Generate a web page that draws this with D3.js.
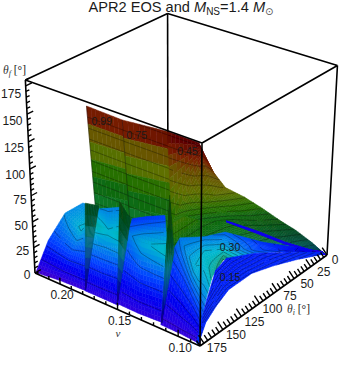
<!DOCTYPE html>
<html>
<head>
<meta charset="utf-8">
<script src="https://cdn.jsdelivr.net/npm/d3@7"></script>
<style>
  html, body { margin: 0; padding: 0; background: #fff; }
  svg { display: block; }
  text { font-family: "Liberation Sans", sans-serif; fill: #1a1a1a; }
  .sym { font-family: "Liberation Serif", serif; font-style: italic; fill: #333; }
</style>
</head>
<body>
<div id="chart"></div>
<script>
// axis ticks and labels
const nuTicks = d3.range(0.09, 0.2201, 0.01);
const nuLabels = [0.20, 0.15, 0.10];
const angleTicks = d3.range(0, 181, 5);
const angleLabels = [0, 25, 50, 75, 100, 125, 150, 175];
const curveLabels = ["0.99", "0.75", "0.45", "0.30", "0.15"];
const curveLabelNu = [0.1666, 0.1386, 0.0994, 0.0966, 0.0966];
const curveLabelThetaI = [170, 170, 170, 118.4, 117.5];
const curveLabelThetaF = [161, 160.5, 162, 56, 26.5];

// far wall, left of the folds
const wall1Nu = [[0.1789, 0.15], [0.1789, 0.15]];
const wall1ThetaI = [[170, 170], [160, 160]];
const wall1ThetaF = [[170, 169], [40, 50]];
const wall2Nu = [[0.15, 0.1147], [0.15, 0.1147]];
const wall2ThetaI = [[170, 170], [160, 160]];
const wall2ThetaF = [[169, 173], [40, 50]];

// upper sheet running out to the corner
const upperThetaI = [170, 165, 150, 125, 100, 75, 50, 25, 3];
const upperNu = [
  [0.1147, 0.091, 0.0826], [0.1147, 0.091, 0.0826], [0.1147, 0.091, 0.0826],
  [0.1147, 0.091, 0.0826], [0.1106, 0.091, 0.0826], [0.0994, 0.0896, 0.0826],
  [0.091, 0.0868, 0.0826], [0.0868, 0.0847, 0.0826], [0.0826, 0.0826, 0.0826]];
const upperThetaF = [
  [173, 173, 157], [90, 158, 149], [90, 119, 130], [75, 99, 111], [66, 79, 90],
  [50, 61, 68], [32, 41, 47], [16, 20, 24], [2, 2, 2]];

// second green band
const bandThetaI = [165, 150, 125, 100, 75, 50, 25, 3];
const bandNu = [0.1147, 0.1147, 0.1147, 0.1106, 0.0994, 0.091, 0.0868, 0.0826];
const bandTop = [90, 90, 75, 66, 50, 32, 16, 2];
const bandBottom = [61, 60, 57, 51.5, 38.5, 24.5, 11, 2];

// violet sliver
const sliverThetaI = [100, 75, 50, 25, 3];
const sliverNu = [0.1106, 0.0994, 0.091, 0.0868, 0.0826];
const sliverTop = [66, 50, 32, 16, 2];
const sliverBottom = [65, 47.5, 30, 15.3, 2];

// blue mounds, left to right
const mound1Nu = [[0.2226, 0.2002, 0.1789], [0.2226, 0.1978, 0.1859], [0.2226, 0.189, 0.1943], [0.2226, 0.2064, 0.1806]];
const mound1ThetaI = [[179, 178, 178], [162, 169, 167], [140, 166, 152], [117, 123, 125]];
const mound1ThetaF = [[0, 2, 3], [24, 25, 25], [41, 52, 48], [41, 45, 38]];

const mound2Nu = [[0.1782, 0.1649, 0.1495], [0.1834, 0.1718, 0.1568], [0.1814, 0.1726, 0.16], [0.2096, 0.2073, 0.2015]];
const mound2ThetaI = [[179.6, 179.5, 179.5], [166, 166.5, 164.5], [159.5, 157, 158.6], [115, 106.5, 98.5]];
const mound2ThetaF = [[4, 4, 4], [24, 24, 24], [58, 52, 56], [40, 38, 38]];

const mound3Nu = [[0.151, 0.1338, 0.1135], [0.1637, 0.1448, 0.1242], [0.1767, 0.1515, 0.125], [0.1995, 0.1935, 0.183]];
const mound3ThetaI = [[178, 178.5, 177], [153.5, 159, 157], [126, 146, 154], [86, 75, 66.4]];
const mound3ThetaF = [[4, 4, 4], [20, 22, 24], [36, 48, 56], [22, 22, 24]];

const mound4Nu = [
  [0.1147, 0.098, 0.0826], [0.1456, 0.1106, 0.0826], [0.1456, 0.1039, 0.0826], [0.133, 0.1081, 0.0826],
  [0.1302, 0.1063, 0.0826], [0.1106, 0.1044, 0.0966], [0.0938, 0.0952, 0.0896], [0.0826, 0.0826, 0.0826]];
const mound4ThetaI = [
  [179, 179.5, 180], [116, 150, 179], [105, 153, 174], [92, 133, 165.6],
  [68, 110.5, 151.5], [48, 71, 83], [29, 42, 45], [8, 8, 8]];
const mound4ThetaF = [
  [3, 3, 2], [27, 24, 18], [36, 50, 37], [37, 52, 57],
  [32, 48, 66], [22, 28, 34], [16, 18, 21.5], [7, 7, 7]];

// low wing in front
const wingNu = [
  [0.0854, 0.084], [0.0857, 0.0896], [0.0918, 0.0946], [0.1028, 0.099],
  [0.1065, 0.0979], [0.1019, 0.0937], [0.0918, 0.089], [0.0826, 0.0826]];
const wingThetaI = [[180, 180], [173.5, 161], [156.6, 139], [127, 115], [106, 85], [74, 61], [45, 36], [8, 7]];
const wingThetaF = [[2, 1], [18, 9], [27, 11], [35, 12.6], [35, 14.4], [27, 12.6], [19.5, 9], [6, 4]];

// dark folds
const fin1Nu = [[0.1789, 0.1789], [0.1789, 0.1764]];
const fin1ThetaI = [[178, 178], [175, 162]];
const fin1ThetaF = [[4, 4], [85, 78]];
const fin2Nu = [[0.1515, 0.1515], [0.15, 0.1485]];
const fin2ThetaI = [[178, 178], [175, 164]];
const fin2ThetaF = [[4, 4], [99, 79]];
const fin3Nu = [[0.1147, 0.1147], [0.1147, 0.1147]];
const fin3ThetaI = [[178, 178], [167.4, 162]];
const fin3ThetaF = [[4, 4], [117, 63]];

// colour ramp against theta_f
const rampStops = [0, 5, 14, 26, 40, 52, 60, 68, 84, 100, 117, 134, 150, 160, 172];
const rampColors = ["#4a00c8", "#2a00e0", "#0000f0", "#0044ff", "#0088e8", "#00b8d0", "#10a890", "#0c8050",
  "#0c7420", "#106a10", "#2a7000", "#607000", "#6a5000", "#7a2000", "#5a0000"];

const width = 339, height = 365;

const svg = d3.select("#chart").append("svg")
  .attr("width", width)
  .attr("height", height);

svg.append("filter").attr("id", "soft")
  .append("feGaussianBlur").attr("stdDeviation", 0.35);

// box corners in the picture and their perspective weights
const front = [200, 346], left = [35, 273], right = [327, 255], top_ = [202, 143];
const wa = 1.075, wb = 1.10, wc = 0.93;

const xNu = d3.scaleLinear().domain([0.0826, 0.2226]).range([0, 1]);
const yAngle = d3.scaleLinear().domain([180, 0]).range([0, 1]);
const zAngle = d3.scaleLinear().domain([0, 180]).range([0, 1]);
const ramp = d3.scaleLinear().domain(rampStops).range(rampColors).clamp(true);

function place(a, b, c) {
  const d = 1 + a * (wa - 1) + b * (wb - 1) + c * (wc - 1);
  return [0, 1].map(i => (front[i]
    + a * (wa * left[i] - front[i])
    + b * (wb * right[i] - front[i])
    + c * (wc * top_[i] - front[i])) / d);
}
const project = (nu, ti, tf) => place(xNu(nu), yAngle(ti), zAngle(tf));

const line = d3.line();
const mix = (p, q, t) => p + (q - p) * t;

// back upright sits behind everything
svg.append("path")
  .attr("d", line([place(1, 1, 1), place(1, 1, 0)]))
  .attr("stroke", "#000").attr("stroke-width", 1.6);

const surface = svg.append("g").attr("filter", "url(#soft)");

// fill one sheet cell by cell, then lay the iso lines over it
function drawSheet(nu, ti, tf, opts = {}) {
  const steps = 8;
  const tone = opts.tone || (v => v);
  const shade = opts.shade || (() => 1);
  const levels = d3.range(opts.step || 10, 180, opts.step || 10);
  const g = surface.append("g");
  const cells = [], iso = [];

  for (let r = 0; r < nu.length - 1; r++) {
    for (let k = 0; k < nu[r].length - 1; k++) {
      const at = (u, v) => {
        const f = m => mix(mix(m[r][k], m[r][k + 1], u), mix(m[r + 1][k], m[r + 1][k + 1], u), v);
        return { nu: f(nu), ti: f(ti), tf: f(tf) };
      };
      for (let i = 0; i < steps; i++) {
        for (let j = 0; j < steps; j++) {
          const q = [at(i / steps, j / steps), at((i + 1) / steps, j / steps),
            at((i + 1) / steps, (j + 1) / steps), at(i / steps, (j + 1) / steps)];
          const pts = q.map(n => project(n.nu, n.ti, n.tf));
          const mean = d3.mean(q, n => n.tf);
          const c = d3.rgb(ramp(tone(mean, d3.mean(q, n => n.ti))));
          const s = shade(mean, d3.mean(q, n => n.ti));
          cells.push({ pts, fill: d3.rgb(c.r * s, c.g * s, c.b * s).formatHex() });

          levels.forEach(level => {
            const hits = [];
            q.forEach((n, e) => {
              const m = q[(e + 1) % 4];
              if ((n.tf - level) * (m.tf - level) < 0) {
                hits.push([mix(pts[e][0], pts[(e + 1) % 4][0], (level - n.tf) / (m.tf - n.tf)),
                  mix(pts[e][1], pts[(e + 1) % 4][1], (level - n.tf) / (m.tf - n.tf))]);
              }
            });
            if (hits.length >= 2) iso.push(hits.slice(0, 2));
          });
        }
      }
    }
  }

  g.selectAll("path.cell").data(cells).join("path")
    .attr("class", "cell")
    .attr("d", d => line(d.pts) + "Z")
    .attr("fill", d => d.fill)
    .attr("stroke", d => d.fill)
    .attr("stroke-width", 0.5);

  g.append("path")
    .attr("d", iso.map(s => line(s)).join(""))
    .attr("fill", "none")
    .attr("stroke", "#000")
    .attr("stroke-opacity", 0.5)
    .attr("stroke-width", 0.6);

  if (opts.fold) {
    g.append("path")
      .attr("d", line(nu.map((row, r) => project(row[0], ti[r][0], tf[r][0]))))
      .attr("fill", "none")
      .attr("stroke", "#000")
      .attr("stroke-opacity", 0.5)
      .attr("stroke-width", 0.7);
  }
}

const pair = (p, q) => p.map((v, i) => [v, q[i]]);

const lifted = v => v + 40 * (1 - Math.min(v, 172) / 172);
const towardCorner = (v, ti) => 0.3 + 0.7 * Math.min(1, ti / 110);

drawSheet(wall1Nu, wall1ThetaI, wall1ThetaF, { fold: true });
drawSheet(wall2Nu, wall2ThetaI, wall2ThetaF, { fold: true });
drawSheet(upperNu, upperThetaI.map(t => [t, t, t]), upperThetaF, { tone: lifted, shade: towardCorner });
drawSheet(pair(bandNu, bandNu), pair(bandThetaI, bandThetaI), pair(bandTop, bandBottom),
  { tone: v => v + 32, shade: (v, ti) => 0.5 + 0.5 * Math.min(1, ti / 90) });
drawSheet(pair(sliverNu, sliverNu), pair(sliverThetaI, sliverThetaI), pair(sliverTop, sliverBottom),
  { tone: () => 10, step: 200 });

drawSheet(mound1Nu, mound1ThetaI, mound1ThetaF);
drawSheet(mound2Nu, mound2ThetaI, mound2ThetaF);
drawSheet(mound3Nu, mound3ThetaI, mound3ThetaF);
drawSheet(mound4Nu, mound4ThetaI, mound4ThetaF, { step: 5 });
drawSheet(wingNu, wingThetaI, wingThetaF, { tone: v => 22 - v * 0.1, step: 3 });

const darker = () => 0.62;
drawSheet(fin1Nu, fin1ThetaI, fin1ThetaF, { shade: darker, step: 200 });
drawSheet(fin2Nu, fin2ThetaI, fin2ThetaF, { shade: darker, step: 200 });
drawSheet(fin3Nu, fin3ThetaI, fin3ThetaF, { shade: darker, step: 200 });

// spin labels on the sheets
curveLabels.forEach((label, i) => {
  const p = project(curveLabelNu[i], curveLabelThetaI[i], curveLabelThetaF[i]);
  svg.append("text")
    .attr("x", p[0]).attr("y", p[1])
    .attr("text-anchor", "middle").attr("dy", "0.35em")
    .style("font-size", "10.5px")
    .text(label);
});

// box edges
const boxEdges = [
  [[1, 0, 1], [0, 0, 1]], [[0, 0, 1], [0, 1, 1]], [[0, 1, 1], [1, 1, 1]], [[1, 1, 1], [1, 0, 1]],
  [[1, 0, 0], [1, 0, 1]], [[0, 0, 0], [0, 0, 1]], [[0, 1, 0], [0, 1, 1]],
  [[1, 0, 0], [0, 0, 0]], [[0, 0, 0], [0, 1, 0]]
];
svg.append("path")
  .attr("d", boxEdges.map(e => line(e.map(c => place(...c)))).join(""))
  .attr("fill", "none").attr("stroke", "#000").attr("stroke-width", 1.6);

// ticks
const tickPath = [];
nuTicks.forEach(v => {
  const major = Math.abs(v * 100 % 5) < 0.01 || Math.abs(v * 100 % 5 - 5) < 0.01;
  tickPath.push(line([place(xNu(v), 0, 0), place(xNu(v), 0, major ? 0.035 : 0.017)]));
});
angleTicks.forEach(v => {
  const major = v % 25 === 0;
  tickPath.push(line([place(0, yAngle(v), 0), place(major ? 0.03 : 0.02, yAngle(v), major ? 0.03 : 0.02)]));
  tickPath.push(line([place(1, 0, zAngle(v)), place(1, major ? 0.04 : 0.022, zAngle(v))]));
});
svg.append("path")
  .attr("d", tickPath.join(""))
  .attr("fill", "none").attr("stroke", "#000").attr("stroke-width", 1.4);

// tick labels
nuLabels.forEach(v => {
  const p = place(xNu(v), 0, 0);
  svg.append("text").attr("x", p[0] + 2).attr("y", p[1] + 11)
    .attr("text-anchor", "middle").attr("dy", "0.35em")
    .style("font-size", "12px").text(v.toFixed(2));
});
angleLabels.forEach((v, i) => {
  const c = zAngle(v);
  const p = place(1, 0, c);
  svg.append("text").attr("x", p[0] - 4.5).attr("y", p[1] + 2 + 6 * c)
    .attr("text-anchor", "end").attr("dy", "0.35em")
    .style("font-size", "12px").text(v);
  const q = place(0, yAngle(v), 0);
  svg.append("text").attr("x", q[0] + (i === 0 ? 8 : 13)).attr("y", q[1] + 5)
    .attr("text-anchor", "middle").attr("dy", "0.35em")
    .style("font-size", "12px").text(v);
});

// axis titles
function angleTitle(x, y, sub) {
  const t = svg.append("text").attr("x", x).attr("y", y).style("font-size", "11.5px");
  t.append("tspan").attr("class", "sym").text("θ");
  t.append("tspan").attr("class", "sym").attr("dy", 2).style("font-size", "8px").text(sub);
  t.append("tspan").attr("dy", -2).style("font-family", "Liberation Serif").text(" [°]");
}
angleTitle(3, 74, "f");
angleTitle(287, 313, "i");
svg.append("text").attr("class", "sym").attr("x", 118).attr("y", 337)
  .attr("text-anchor", "middle").style("font-size", "11px").text("ν");

// title
const title = svg.append("text").attr("x", 181).attr("y", 12)
  .attr("text-anchor", "middle").style("font-size", "14.6px");
title.append("tspan").text("APR2 EOS and ");
title.append("tspan").style("font-style", "italic").text("M");
title.append("tspan").attr("dy", 2.5).style("font-size", "10px").text("NS");
title.append("tspan").attr("dy", -2.5).text("=1.4 ");
title.append("tspan").style("font-style", "italic").text("M");
title.append("tspan").attr("dy", 2.5).style("font-size", "10px")
  .style("font-family", "DejaVu Sans").attr("fill", "#555").text("⊙");
</script>
</body>
</html>
